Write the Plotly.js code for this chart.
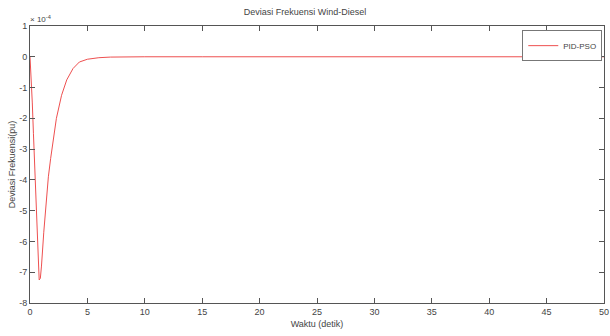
<!DOCTYPE html>
<html>
<head>
<meta charset="utf-8">
<script src="https://cdn.plot.ly/plotly-3.0.1.min.js"></script>
<style>html,body{margin:0;padding:0;background:#fff;}#chart{width:610px;height:336px;}</style>
</head>
<body>
<div id="chart"></div>
<script>
// time (detik)
var waktu = [0, 0.1, 0.2, 0.3, 0.4, 0.5, 0.6, 0.7, 0.8, 0.9, 1.0, 1.2, 1.4, 1.6, 1.8, 2.0, 2.3, 2.75, 3.2, 3.75, 4.3, 5.0, 6.0, 7.0, 8.0, 10, 15, 20, 30, 40, 50];
// frequency deviation (x 1e-4 pu)
var deviasi = [0, -0.6, -1.5, -2.5, -3.5, -4.5, -5.5, -6.5, -7.25, -7.2, -6.8, -5.7, -4.7, -3.9, -3.3, -2.8, -2.0, -1.25, -0.75, -0.38, -0.17, -0.08, -0.03, -0.01, 0, 0, 0, 0, 0, 0, 0];
var xTicks = [0, 5, 10, 15, 20, 25, 30, 35, 40, 45, 50];
var yTicks = [1, 0, -1, -2, -3, -4, -5, -6, -7, -8];
var yTickText = yTicks.map(function(v){ return String(v); });

var font = {family: 'Liberation Sans, Arial, sans-serif', size: 9, color: '#444'};

Plotly.newPlot('chart', [{
  x: waktu, y: deviasi, type: 'scatter', mode: 'lines', name: 'PID-PSO',
  line: {color: 'rgb(238,80,80)', width: 1}
}], {
  width: 610, height: 336,
  margin: {l: 30, r: 6, t: 26, b: 33},
  paper_bgcolor: '#fff', plot_bgcolor: '#fff',
  font: font,
  title: {text: 'Deviasi Frekuensi Wind-Diesel', font: {family: font.family, size: 9, color: '#444'}, x: 0.5, xanchor: 'center', y: 0.965, yanchor: 'middle'},
  xaxis: {
    range: [0, 50], tickvals: xTicks, ticktext: xTicks.map(String),
    ticks: 'inside', ticklen: 5, tickcolor: '#555', mirror: 'ticks',
    showline: true, linecolor: '#555', linewidth: 1, showgrid: false, zeroline: false,
    tickfont: font,
    title: {text: 'Waktu (detik)', font: font, standoff: 4}
  },
  yaxis: {
    range: [-8, 1], tickvals: yTicks, ticktext: yTickText,
    ticks: 'inside', ticklen: 5, tickcolor: '#555', mirror: 'ticks',
    showline: true, linecolor: '#555', linewidth: 1, showgrid: false, zeroline: false,
    tickfont: font,
    title: {text: 'Deviasi Frekuensi(pu)', font: font, standoff: 2}
  },
  showlegend: true,
  legend: {x: 0.997, y: 0.985, xanchor: 'right', yanchor: 'top', bgcolor: '#fff',
    bordercolor: '#777', borderwidth: 1, font: {family: font.family, size: 8, color: '#444'}, itemwidth: 30, tracegroupgap: 0},
  annotations: [{text: '× 10<sup>-4</sup>', xref: 'paper', yref: 'paper', x: 0, y: 1, xanchor: 'left', yanchor: 'bottom', showarrow: false, font: {family: font.family, size: 8, color: '#444'}, xshift: -2, yshift: 0}]
}, {displayModeBar: false, staticPlot: true});
</script>
</body>
</html>
